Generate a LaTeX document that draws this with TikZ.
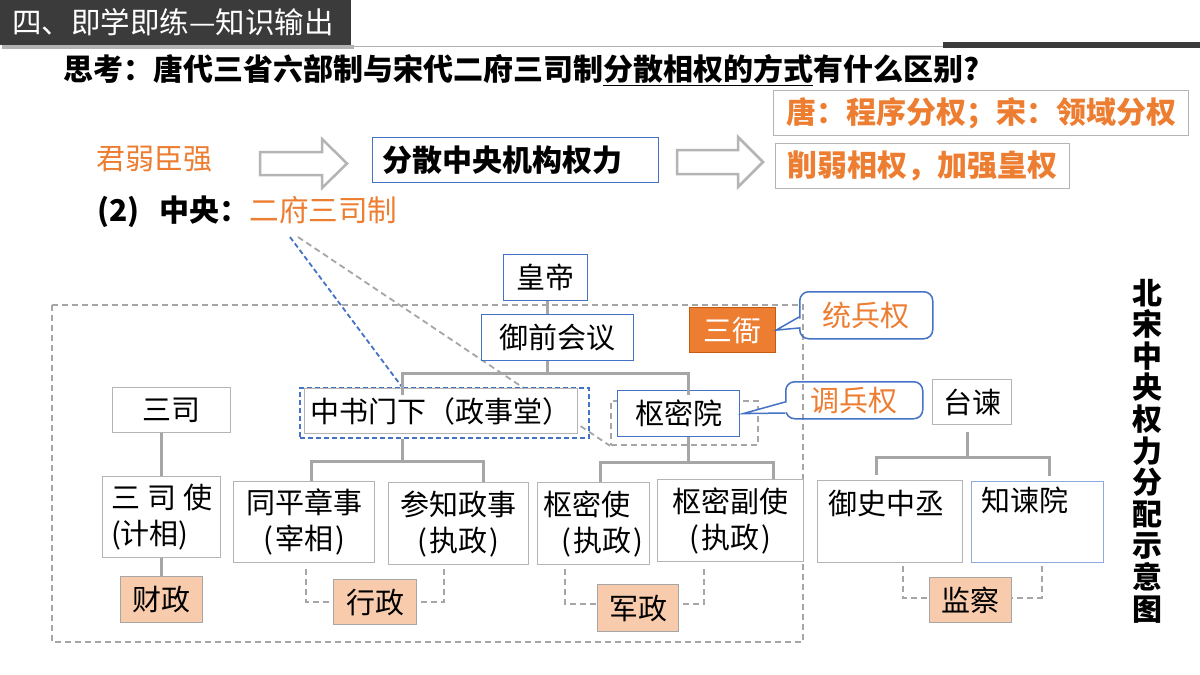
\documentclass[tikz,border=0pt]{standalone}
\usepackage{fontspec}
\setmainfont{Noto Sans CJK SC}
\usetikzlibrary{calc}
\definecolor{org}{RGB}{237,125,49}
\definecolor{orgd}{RGB}{197,90,17}
\definecolor{blu}{RGB}{68,114,196}
\definecolor{lblu}{RGB}{143,170,220}
\definecolor{gbd}{RGB}{180,180,180}
\definecolor{gln}{RGB}{166,166,166}
\definecolor{pch}{RGB}{248,203,173}
\definecolor{barc}{RGB}{59,59,59}
\newcommand\fsz[2]{\fontsize{#1}{#2}\selectfont}
\newcommand\bx[7]{\node[#6, anchor=north west, minimum width={(#4)-(#2)}, minimum height={(#5)-(#3)}] (#1) at (#2,#3) {#7};}
\tikzset{
  box/.style={draw=gbd, fill=white, line width=1.2pt, inner sep=0pt, font=\fsz{29}{36}},
  bbox/.style={box, draw=blu},
  lbbox/.style={box, draw=lblu},
  pbox/.style={box, fill=pch, draw=gln},
  conn/.style={draw=gln, line width=3pt},
  dconn/.style={draw=gln, line width=1.8pt, dash pattern=on 6pt off 4pt},
  callout/.style={draw=blu, line width=1.5pt, rounded corners=9pt, inner sep=0pt, text=org, font=\fsz{29}{36}},
  hollow/.style={draw=gbd, fill=white, line width=2.5pt, line join=miter},
  plain/.style={inner sep=0pt, anchor=west},
}
\begin{document}
\begin{tikzpicture}[x=1pt, y=-1pt]
\useasboundingbox (0,0) rectangle (1200,675);
\fill[white] (0,0) rectangle (1200,675);
% title bar
\fill[black!30] (2,45) rectangle (354,49);
\fill[barc] (0,0) rectangle (351,45);
\node[plain, text=white, font=\fsz{29.5}{34}] (title) at (12,22) {四、即学即练—知识输出};
\draw[gray!60, line width=1pt] (351,46.5) -- (943,46.5);
\fill[barc] (943,42) rectangle (1200,48);
% question
\node[plain, font=\fsz{30}{36}\bfseries] (q) at (63,70) {思考：唐代三省六部制与宋代二府三司制\underline{分散相权的方式}有什么区别?};
% answer boxes
\bx{ans1}{773}{90}{1188}{135}{box, text=org, font=\fsz{30}{36}\bfseries}{唐：程序分权；宋：领域分权}
\bx{ans2}{775}{143}{1069}{188}{box, text=org, font=\fsz{30}{36}\bfseries}{削弱相权，加强皇权}
% reasoning row
\node[plain, text=org, font=\fsz{29}{34}] (jr) at (96,159) {君弱臣强};
\draw[hollow] (260,152) -- (322,152) -- (322,139) -- (347,163.5) -- (322,188) -- (322,175) -- (260,175) -- cycle;
\bx{fs}{372}{137}{658}{182}{box, draw=blu, line width=1pt, font=\fsz{30}{36}\bfseries}{分散中央机构权力\hspace*{26pt}}
\draw[hollow] (677,150) -- (738,150) -- (738,137) -- (763,162) -- (738,187) -- (738,174) -- (677,174) -- cycle;
\node[plain, font=\fsz{30}{36}] (zy) at (97,212) {\bfseries (2)\hspace{20pt}中央：\mdseries\color{org}\fsz{29.6}{36}二府三司制};
% link lines from 二府三司制
\coordinate (lb) at (290,237);
\coordinate (lg) at (298,237);
\coordinate (zstop) at (402,387);
% big dashed frame
\draw[dconn] (52,305) rectangle (803,642);
% dashed box around 枢密院
\bx{smybox}{610}{400}{757}{444}{draw=gln, line width=1.8pt, dash pattern=on 6pt off 4pt, inner sep=0pt}{}
\draw[dconn] (lg) -- (smybox.south west);
\draw[draw=blu, line width=1.8pt, dash pattern=on 5pt off 3pt] (lb) -- (zstop);
% top chain
\bx{huangdi}{503}{254}{587}{300}{bbox}{皇帝}
\bx{yuqian}{481}{314}{633}{360}{bbox}{御前会议}
\bx{sanya}{689}{307}{775}{352}{box, fill=org, draw=orgd, text=white}{三衙}
\bx{tong}{799}{291}{932}{338}{callout}{统兵权}
\fill[white] (801,318.5) -- (799,318.5) -- (776,330) -- (799,327) -- (801,327) -- cycle;
\draw[blu, line width=1.5pt, line join=miter] ($(tong.north west)+(0,26)$) -- (sanya.east) -- ($(tong.north west)+(0,37)$);
% 中书门下
\bx{zsbox}{299}{387}{588}{437}{draw=blu, line width=2pt, dash pattern=on 5pt off 3pt, inner sep=0pt}{}
\bx{zs}{304}{388}{577}{433}{box, line width=1pt}{中书门下（政事堂）}
\bx{shumi}{617}{390}{739}{436}{bbox}{枢密院}
\bx{diao}{785}{381}{922}{418}{callout}{调兵权}
\coordinate (dtip) at ($(shumi.east)+(3,0)$);
\fill[white] (787,402.5) -- (785,402.5) -- (743,413) -- (785,412) -- (787,412) -- cycle;
\draw[blu, line width=1.5pt, line join=miter] ($(diao.north west)+(0,21)$) -- (dtip) -- ($(diao.north west)+(0,32)$);
% 台谏 and 三司
\bx{taijian}{932}{379}{1011}{424}{box}{台谏}
\bx{sansi}{112}{387}{230}{432}{box}{三司}
% lower boxes
\bx{sansishi}{102}{476}{220}{557}{box, align=left}{三\hspace{7pt}司\hspace{7pt}使\\(计相)}
\bx{caizheng}{120}{576}{202}{622}{pbox}{财政}
\bx{tongping}{233}{481}{374}{562}{box, align=center}{同平章事\\(\kern2pt宰相\kern2pt)}
\bx{canzhi}{388}{482}{528}{564}{box, align=center}{参知政事\\(\kern2pt执政\kern2pt)}
\bx{xingzheng}{333}{579}{416}{624}{pbox}{行政}
\bx{shumishi}{537}{482}{649}{564}{box, align=left}{枢密使\\\hspace*{18pt}(\kern2pt执政\kern2pt)}
\bx{fushi}{657}{479}{803}{561}{box, align=center}{枢密副使\\(\kern2pt执政\kern2pt)}
\bx{junzheng}{597}{584}{678}{631}{pbox}{军政}
\bx{yushi}{817}{480}{962}{562}{box, align=left}{御史中丞\hspace*{8pt}\\\phantom{御}}
\bx{zhijian}{971}{481}{1103}{562}{lbbox}{\begin{tabular}{@{}l@{}}知谏院\hspace*{26pt}\\\phantom{知}\end{tabular}}
\bx{jiancha}{929}{577}{1011}{622}{pbox}{监察}
% tree connectors
\coordinate (j0) at (547,373);
\coordinate (c1) at (402,373);
\coordinate (c2) at (688,373);
\draw[conn] (huangdi.south -| j0) -- (yuqian.north -| j0);
\draw[conn] (yuqian.south -| j0) -- (j0);
\draw[conn] ($(zs.north -| c1)+(0,7)$) -- (c1) -- (c2) -- ($(shumi.north -| c2)+(0,5)$);
\coordinate (d0) at (402,461);
\coordinate (d1) at (311,461);
\coordinate (d2) at (483,461);
\draw[conn] (zsbox.south -| d0) -- (d0);
\draw[conn] (tongping.north -| d1) -- (d1) -- (d2) -- (canzhi.north -| d2);
\coordinate (e0) at (688,462);
\coordinate (e1) at (600,462);
\coordinate (e2) at (773,462);
\draw[conn] (shumi.south -| e0) -- (e0);
\draw[conn] (shumishi.north -| e1) -- (e1) -- (e2) -- (fushi.north -| e2);
\draw[conn] (sansi.south -| sansishi.north) -- (sansishi.north);
\draw[conn] (sansishi.south) -- (caizheng.north -| sansishi.south);
\coordinate (t0) at (967,457);
\coordinate (t1) at (876,457);
\coordinate (t2) at (1049,457);
\draw[conn] ($(taijian.south -| t0)+(0,7)$) -- (t0);
\draw[conn] ($(yushi.north -| t1)+(0,-5)$) -- (t1) -- (t2) -- ($(zhijian.north -| t2)+(0,-5)$);
% dashed connectors to function boxes
\draw[dconn] ($(tongping.south)+(1.5,6)$) |- (xingzheng.west);
\draw[dconn] ($(canzhi.south)+(-15,4)$) |- (xingzheng.east);
\draw[dconn] ($(shumishi.south)+(-29,4)$) |- ($(junzheng.west)+(0,-4)$);
\draw[dconn] ($(fushi.south)+(-27,7)$) |- ($(junzheng.east)+(0,-4)$);
\draw[dconn] ($(yushi.south)+(12.5,3)$) |- ($(jiancha.west)+(0,-2.5)$);
\draw[dconn] ($(zhijian.south)+(4,3)$) |- ($(jiancha.east)+(0,-2.5)$);
% vertical title
\node[inner sep=0pt, align=center, font=\fsz{30}{31.6}\bfseries] (vt) at (1147,451) {北\\宋\\中\\央\\权\\力\\分\\配\\示\\意\\图};
\end{tikzpicture}
\end{document}
